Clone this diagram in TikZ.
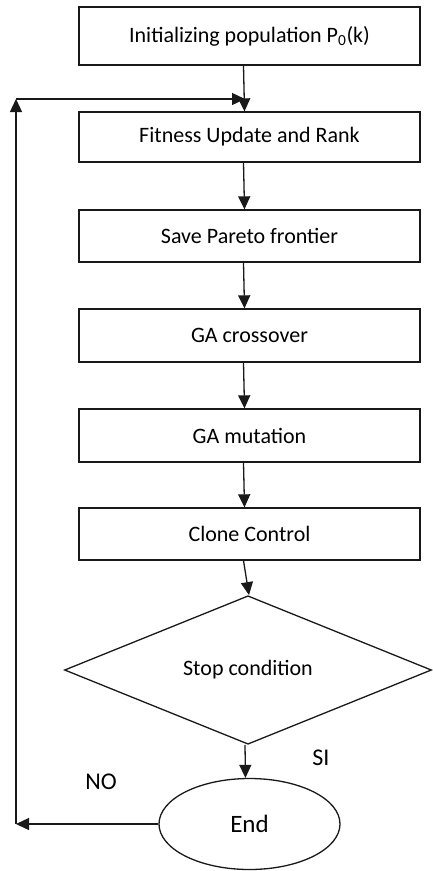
\documentclass[tikz,border=0pt]{standalone}
\usepackage{fontspec}
\setmainfont{Carlito}
\usetikzlibrary{shapes.geometric,arrows.meta}

\tikzset{
  flowline/.style={line width=1.3pt, draw=black!90},
  arrowline/.style={flowline, -{Triangle[length=13pt,width=12pt]}},
  stepbox/.style={draw=black!90, line width=1.3pt, rectangle, minimum width=341pt,
    inner sep=0pt, font=\fontsize{22}{26}\selectfont},
  decision/.style={draw=black!90, line width=1.3pt, diamond, minimum width=367pt,
    minimum height=124pt, inner sep=0pt, font=\fontsize{22}{26}\selectfont},
  terminal/.style={draw=black!90, line width=1.3pt, ellipse, minimum width=181pt,
    minimum height=91pt, inner sep=0pt, font=\fontsize{25}{30}\selectfont},
  tag/.style={font=\fontsize{24}{28}\selectfont, inner sep=0pt}
}

\begin{document}
\begin{tikzpicture}[x=1pt, y=-1pt]
  \useasboundingbox (0,0) rectangle (433,871);

  % process steps
  \node[stepbox, minimum height=58pt] (init)  at (249.5,36)  {Initializing population P\textsubscript{0}(k)};
  \node[stepbox, minimum height=50pt] (fit)   at (249.5,137) {Fitness Update and Rank};
  \node[stepbox, minimum height=52pt] (save)  at (249.5,236) {Save Pareto frontier};
  \node[stepbox, minimum height=53pt] (cross) at (249.5,335.5) {GA crossover};
  \node[stepbox, minimum height=53pt] (mut)   at (249.5,435.5) {GA mutation};
  \node[stepbox, minimum height=52pt] (clone) at (249.5,534) {Clone Control};

  % decision and terminal
  \node[decision] (stop) at (248,670) {Stop condition};
  \node[terminal] (end)  at (249.5,824) {End};

  % labels
  \node[tag] (si) at (321,758) {SI};
  \node[tag] (no) at (101,782) {NO};

  % feedback corners
  \coordinate (loopbot) at (16,824);
  \coordinate (looptop) at (16,99);
  \coordinate (merge)   at (245,99);

  % main flow
  \draw[arrowline] ([xshift=-6pt]init.south)  -- ([xshift=-5pt]fit.north);
  \draw[arrowline] ([xshift=-6pt]fit.south)   -- ([xshift=-5pt]save.north);
  \draw[arrowline] ([xshift=-6pt]save.south)  -- ([xshift=-5pt]cross.north);
  \draw[arrowline] ([xshift=-6pt]cross.south) -- ([xshift=-5pt]mut.north);
  \draw[arrowline] ([xshift=-6pt]mut.south)   -- ([xshift=-5pt]clone.north);
  \draw[arrowline] ([xshift=-6pt]clone.south) -- ([xshift=1pt]stop.north);
  \draw[arrowline] ([xshift=-3pt]stop.south)  -- ([xshift=-4pt]end.north);

  % loop back to the fitness step
  \draw[arrowline] (end.west) -- (loopbot);
  \draw[arrowline] (loopbot) -- (looptop);
  \draw[arrowline] (looptop) -- (merge);
\end{tikzpicture}
\end{document}
